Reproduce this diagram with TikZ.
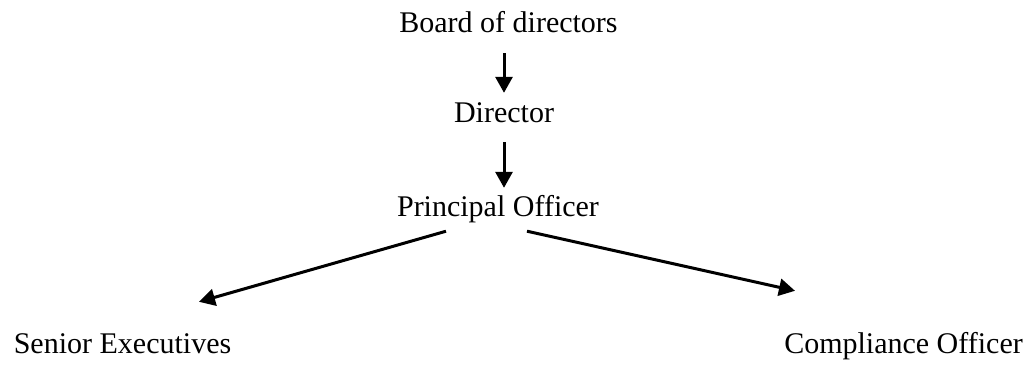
\documentclass[tikz,border=0pt]{standalone}
\usepackage{fontspec}
\setmainfont{Liberation Serif}
\usetikzlibrary{arrows.meta,calc}
\begin{document}
\begin{tikzpicture}[x=1pt,y=-1pt,
  label/.style={inner sep=0pt,anchor=base,text height=21pt,text depth=7pt,
    font=\fontsize{30}{36}\selectfont},
  link/.style={line width=3pt,-{Triangle[length=16pt,width=17pt]}}]
  \useasboundingbox (0,0) rectangle (1035,364);
  % hierarchy labels, placed by their baselines
  \node[label] (board) at (508.5,32) {Board of directors};
  \node[label] (dir)   at (504,122)  {Director};
  \node[label] (po)    at (498,216)  {Principal Officer};
  \node[label] (se)    at (122.5,353) {Senior Executives};
  \node[label] (co)    at (903.5,353) {Compliance Officer};
  % reporting lines
  \draw[link] ($(dir.north |- board.south)+(0,14)$) -- ($(dir.north)+(0,-8)$);
  \draw[link] ($(dir.south)+(0,13)$) -- ($(dir.south |- po.north)+(0,-7)$);
  \draw[link] ($(po.south)+(-52,8)$) -- ($(se.north)+(76.5,-30)$);
  \draw[link] ($(po.south)+(29,8)$) -- ($(co.north)+(-108.5,-41)$);
\end{tikzpicture}
\end{document}
